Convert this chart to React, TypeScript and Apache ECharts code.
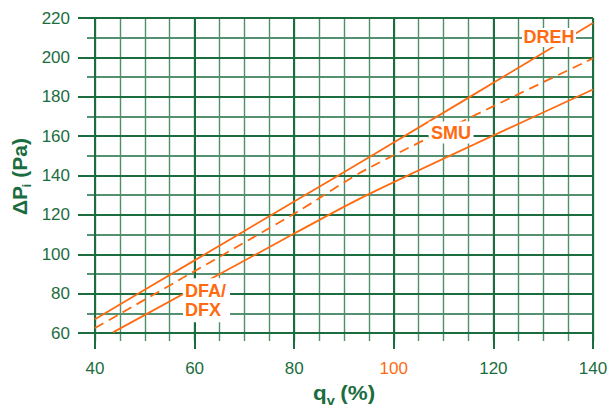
import React, { useEffect, useRef } from "react";
import * as echarts from "echarts";

const GREEN = "#1b6d40";
const GREEN_MINOR = "#4f8f69";
const ORANGE = "#ff6a10";
const FONT = "'Liberation Sans', Arial, Helvetica, sans-serif";

// x: q_v (%), y: ΔP_i (Pa)
const drehLine: [number, number][] = [[40, 67], [60, 96.9], [80, 126.8], [95.2, 149.5], [140, 217.5]];
const smuLine: [number, number][] = [[40, 62.5], [80, 120.6], [95.2, 144.1], [140, 199.5]];
const dfaLine: [number, number][] = [[43.6, 60.3], [80, 110.5], [95.2, 130.8], [140, 183.7]];

const xTicksMajor = { min: 40, max: 140, interval: 20 };
const xTicksMinor = { min: 40, max: 140, interval: 5 };
const yTicksMajor = { min: 60, max: 220, interval: 20 };
const yTicksMinor = { min: 60, max: 220, interval: 10 };
const highlightedXTick = 100;

const labelTexts = ["DREH", "SMU", "DFA/\nDFX"];
const labelAnchors: [number, number][] = [[131.16, 210.1], [111.5, 161.8], [62.4, 76.6]];

export default function App() {
  const ref = useRef<HTMLDivElement>(null);
  useEffect(() => {
    if (!ref.current) return;
    const chart = echarts.init(ref.current, null, { renderer: "svg" });
    const tickLabel = {
      color: GREEN,
      fontSize: 17,
      fontFamily: FONT,
    };
    const markPoint = (i: number, size: [number, number], extra: any = {}) => ({
      symbol: "rect",
      symbolSize: size,
      itemStyle: { color: "#ffffff" },
      z: 5,
      label: {
        show: true,
        position: "inside",
        formatter: labelTexts[i],
        color: ORANGE,
        fontWeight: "bold",
        fontSize: 18,
        fontFamily: FONT,
        lineHeight: 19.5,
        ...extra,
      },
      data: [{ coord: labelAnchors[i] }],
    });
    const lineSeries = (data: [number, number][], dashed: boolean, mp: any) => ({
      type: "line",
      data,
      showSymbol: false,
      smooth: 0.3,
      z: 3,
      lineStyle: { color: ORANGE, width: 1.8, type: dashed ? [10, 6] : "solid" },
      markPoint: mp,
    });
    chart.setOption({
      animation: false,
      backgroundColor: "#ffffff",
      grid: { left: 95, top: 18, right: 17, bottom: 75, outerBoundsMode: "none" },
      xAxis: [
        {
          type: "value",
          ...xTicksMajor,
          position: "bottom",
          z: 1,
          axisLine: { show: true, lineStyle: { color: GREEN, width: 2 } },
          axisTick: { show: true, length: 16, lineStyle: { color: GREEN, width: 2 } },
          splitLine: { show: true, lineStyle: { color: GREEN, width: 2 } },
          axisLabel: {
            ...tickLabel,
            margin: 27,
            showMinLabel: true,
            showMaxLabel: true,
            formatter: (v: number) => (v === highlightedXTick ? `{o|${v}}` : `${v}`),
            rich: { o: { color: ORANGE, fontSize: 17, fontFamily: FONT } },
          },
        },
        {
          type: "value",
          ...xTicksMinor,
          position: "bottom",
          z: 0,
          axisLine: { show: false },
          axisTick: { show: true, length: 8, lineStyle: { color: GREEN_MINOR, width: 1.4 } },
          splitLine: { show: true, lineStyle: { color: GREEN_MINOR, width: 1.4 } },
          axisLabel: { show: false },
        },
      ],
      yAxis: [
        {
          type: "value",
          ...yTicksMajor,
          position: "left",
          z: 1,
          axisLine: { show: true, lineStyle: { color: GREEN, width: 2 } },
          axisTick: { show: true, length: 17, lineStyle: { color: GREEN, width: 2 } },
          splitLine: { show: true, lineStyle: { color: GREEN, width: 2 } },
          axisLabel: { ...tickLabel, margin: 25, showMinLabel: true, showMaxLabel: true },
        },
        {
          type: "value",
          ...yTicksMinor,
          position: "left",
          z: 0,
          axisLine: { show: false },
          axisTick: { show: true, length: 8, lineStyle: { color: GREEN, width: 1.5 } },
          splitLine: { show: true, lineStyle: { color: GREEN, width: 1.5 } },
          axisLabel: { show: false },
        },
      ],
      series: [
        lineSeries(drehLine, false, markPoint(0, [54, 19])),
        lineSeries(smuLine, true, markPoint(1, [45, 22])),
        lineSeries(dfaLine, false, markPoint(2, [47, 44], { align: "left", offset: [-21.5, 0] })),
      ],
      graphic: [
        {
          type: "group",
          x: 19,
          y: 176,
          rotation: Math.PI / 2,
          children: [
            { type: "text", x: -39, y: 0, style: { text: "ΔP", fill: GREEN, font: `bold 21px ${FONT}`, textAlign: "left", textVerticalAlign: "middle" } },
            { type: "text", x: -11.5, y: 7, style: { text: "i", fill: GREEN, font: `bold 13px ${FONT}`, textAlign: "left", textVerticalAlign: "middle" } },
            { type: "text", x: -7.5, y: 0, style: { text: " (Pa)", fill: GREEN, font: `bold 21px ${FONT}`, textAlign: "left", textVerticalAlign: "middle" } },
          ],
        },
        {
          type: "group",
          x: 313,
          y: 393,
          scaleX: 1.12,
          children: [
            { type: "text", x: 0, y: 0, style: { text: "q", fill: GREEN, font: `bold 20px ${FONT}`, textAlign: "left", textVerticalAlign: "middle" } },
            { type: "text", x: 12.3, y: 8, style: { text: "v", fill: GREEN, font: `bold 13px ${FONT}`, textAlign: "left", textVerticalAlign: "middle" } },
            { type: "text", x: 18.8, y: 0, style: { text: " (%)", fill: GREEN, font: `bold 20px ${FONT}`, textAlign: "left", textVerticalAlign: "middle" } },
          ],
        },
      ],
    });
    return () => chart.dispose();
  }, []);
  return (
    <div
      ref={ref}
      style={{ position: "fixed", left: 0, top: 0, width: 610, height: 408 }}
    />
  );
}
